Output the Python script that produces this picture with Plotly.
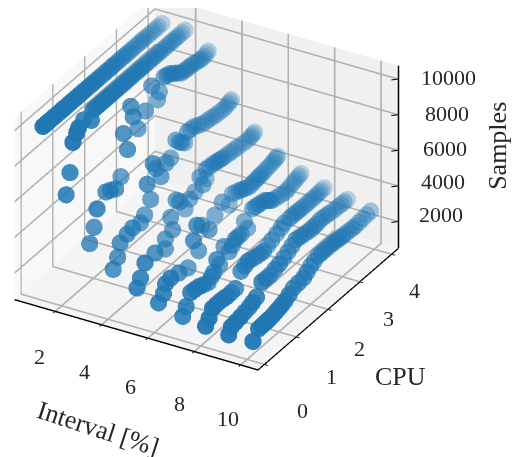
import plotly.graph_objects as go

# One (CPU, Samples) list per sampling interval.
INTERVALS = [1, 2, 3, 4, 5, 6, 7, 8, 9, 10]

cpu_1 = [0.14, 0.21, 0.28, 0.36, 0.44, 0.51, 0.59, 0.67, 0.75, 0.82, 0.90, 0.98, 1.06, 1.13, 1.21, 1.29, 1.37, 1.44, 1.52,
         1.60, 1.68, 1.75, 1.83, 1.91, 1.99, 2.06, 2.14, 2.22, 2.30, 2.37, 2.45, 2.53, 2.61, 2.68, 2.76, 2.84, 2.92, 2.99,
         3.07, 3.15, 3.23, 3.30, 3.38, 3.46, 3.54, 3.61, 3.69, 3.77, 3.88]
samples_1 = [10000, 10000, 10000, 10000, 10000, 10000, 10000, 10000, 10000, 10000, 10000, 10000, 10000, 10000, 10000, 10000, 10000,
             10000, 10000, 10000, 10000, 10000, 10000, 10000, 10000, 10000, 10000, 10000, 10000, 10000, 10000, 10000, 10000,
             10000, 10000, 10000, 10000, 10000, 10000, 10000, 10000, 10000, 10000, 10000, 10000, 10000, 10000, 10000, 10000]

cpu_2 = [0.14, 0.26, 0.35, 0.47, 0.53, 0.69, 0.93, 0.99, 1.07, 1.15, 1.23, 1.31, 1.39, 1.47, 1.55, 1.63, 1.71, 1.79, 1.87,
         1.95, 2.03, 2.11, 2.19, 2.27, 2.35, 2.43, 2.51, 2.59, 2.67, 2.75, 2.83, 2.91, 2.99, 3.07, 3.15, 3.23, 3.31, 3.39,
         3.47, 3.55, 3.63, 3.71, 3.79, 3.88]
samples_2 = [6540, 7600, 9160, 9500, 9700, 9900, 9500, 10000, 10000, 10000, 10000, 10000, 10000, 10000, 10000, 10000, 10000,
             10000, 10000, 10000, 10000, 10000, 10000, 10000, 10000, 10000, 10000, 10000, 10000, 10000, 10000, 10000, 10000,
             10000, 10000, 10000, 10000, 10000, 10000, 10000, 10000, 10000, 10000, 10000]

cpu_3 = [0.15, 0.29, 0.38, 0.66, 0.80, 0.97, 1.13, 1.34, 1.21, 1.67, 1.52, 1.44, 1.91, 2.28, 2.34, 2.10,
         2.49, 2.58, 2.67, 2.76, 2.85, 2.94, 3.03, 3.11, 3.19, 3.27, 3.34, 3.42, 3.49, 3.57, 3.64, 3.70, 3.76, 3.82, 3.88]
samples_3 = [4160, 4860, 5750, 6270, 6150, 5970, 6400, 7600, 8700, 8260, 9160, 9870, 8890, 8940, 9300, 10000,
             9900, 9850, 9800, 9680, 9550, 9420, 9280, 9265, 9250, 9240, 9230, 9200, 9170, 9135, 9100, 9100, 9100, 9150, 9200]

cpu_4 = [0.16, 0.30, 0.38, 0.60, 0.77, 1.02, 1.15, 1.34, 1.23, 1.66, 1.51, 1.42, 1.82, 1.97,
         2.13, 2.24, 2.32, 2.41, 2.50, 2.60, 2.71, 2.84, 2.96, 3.06, 3.16, 3.26, 3.36, 3.44, 3.52, 3.60, 3.67, 3.73, 3.78, 3.83, 3.88]
samples_4 = [3070, 3530, 4210, 4370, 4460, 4350, 4600, 5180, 6200, 5960, 6640, 7060, 6470, 6530,
             7280, 7000, 6850, 6700, 7180, 7170, 7150, 7020, 6900, 6860, 6830, 6800, 6760, 6740, 6730, 6710, 6700, 6740, 6780, 6810, 6850]

cpu_5 = [0.18, 0.29, 0.43, 0.75, 1.07, 1.07, 1.30, 1.24, 1.69, 1.41, 1.53, 1.84, 2.00, 2.25, 2.35, 2.16, 2.35,
         2.46, 2.57, 2.65, 2.73, 2.81, 2.89, 2.99, 3.09, 3.19, 3.29, 3.38, 3.48, 3.57, 3.67, 3.73, 3.78, 3.83, 3.88]
samples_5 = [2370, 2760, 3390, 3460, 3190, 3750, 3910, 4700, 4470, 5400, 5120, 4800, 4960, 4970, 5160, 5550, 5690,
             5660, 5640, 5600, 5570, 5530, 5500, 5470, 5450, 5420, 5400, 5370, 5350, 5320, 5300, 5320, 5340, 5370, 5400]

cpu_6 = [0.13, 0.28, 0.35, 0.51, 0.77, 1.06, 1.39, 1.23, 1.72, 1.49, 1.33, 1.90, 2.35, 2.13, 2.45,
         2.56, 2.67, 2.75, 2.83, 2.91, 2.99, 3.06, 3.12, 3.18, 3.24, 3.30, 3.35, 3.41, 3.46, 3.52, 3.58, 3.64, 3.70, 3.75, 3.80, 3.84, 3.88]
samples_6 = [1990, 2270, 2720, 2800, 2680, 2520, 2970, 3780, 3640, 4240, 4490, 4180, 4050, 4560, 4530,
             4450, 4370, 4300, 4230, 4160, 4100, 4120, 4140, 4160, 4180, 4200, 4210, 4220, 4240, 4260, 4280, 4300, 4330, 4360, 4390, 4410, 4430]

cpu_7 = [0.16, 0.27, 0.41, 0.54, 0.67, 0.81, 0.96, 1.06, 1.14, 1.32, 1.23, 1.62, 1.46, 1.72, 1.81, 1.90, 2.00, 2.20, 2.10, 2.36,
         2.45, 2.55, 2.65, 2.74, 2.80, 2.85, 2.91, 2.96, 3.07, 3.17, 3.27, 3.38, 3.44, 3.51, 3.58, 3.64, 3.70, 3.76, 3.82, 3.88]
samples_7 = [1560, 1940, 2510, 2480, 2440, 2330, 2220, 2400, 2530, 2670, 3090, 2940, 3480, 3130, 3330, 3340, 3340, 3350, 3890, 4210,
             4180, 4150, 4110, 4080, 3990, 3900, 3820, 3740, 3690, 3640, 3600, 3550, 3580, 3620, 3660, 3700, 3730, 3770, 3800, 3830]

cpu_8 = [0.15, 0.26, 0.37, 0.48, 0.60, 0.72, 0.83, 0.96, 1.09, 1.26, 1.38, 1.49, 1.62, 1.75, 1.86, 1.97, 2.10, 2.23,
         2.38, 2.52, 2.62, 2.78, 2.86, 2.94, 3.02, 3.10, 3.18, 3.26, 3.34, 3.42, 3.50, 3.58, 3.66, 3.73, 3.80, 3.88]
samples_8 = [1400, 1680, 2070, 2090, 2100, 2070, 2030, 2040, 2060, 2770, 2870, 2970, 2910, 2850, 2820, 2790, 2900, 3010,
             3130, 3250, 3370, 3380, 3380, 3380, 3370, 3360, 3355, 3350, 3350, 3350, 3350, 3350, 3360, 3370, 3385, 3400]

cpu_9 = [0.15, 0.23, 0.37, 0.52, 0.65, 0.79, 0.90, 1.02, 1.19, 1.32, 1.45, 1.60, 1.74, 1.88, 2.01, 2.14, 2.26,
         2.38, 2.49, 2.60, 2.72, 2.81, 2.90, 2.99, 3.07, 3.18, 3.28, 3.38, 3.49, 3.59, 3.69, 3.78, 3.88]
samples_9 = [1290, 1620, 1670, 1720, 1790, 1850, 1950, 2060, 2650, 2640, 2640, 2720, 2810, 2940, 3070, 3220, 3370,
             3330, 3290, 3255, 3220, 3230, 3240, 3270, 3300, 3270, 3240, 3210, 3180, 3165, 3150, 3140, 3130]

cpu_10 = [0.18, 0.36, 0.47, 0.58, 0.68, 0.79, 0.89, 0.99, 1.09, 1.19, 1.32, 1.45, 1.61, 1.77, 1.88, 2.00, 2.11,
          2.23, 2.34, 2.45, 2.56, 2.66, 2.74, 2.83, 2.91, 3.00, 3.10, 3.20, 3.30, 3.40, 3.52, 3.64, 3.76, 3.88]
samples_10 = [1250, 1680, 1690, 1700, 1715, 1730, 1785, 1840, 1900, 1960, 2120, 2290, 2320, 2350, 2510, 2680, 2780,
              2890, 2890, 2890, 2890, 2890, 2870, 2850, 2830, 2810, 2795, 2780, 2765, 2750, 2775, 2800, 2825, 2850]

CPU = [cpu_1, cpu_2, cpu_3, cpu_4, cpu_5, cpu_6, cpu_7, cpu_8, cpu_9, cpu_10]
SAMPLES = [samples_1, samples_2, samples_3, samples_4, samples_5, samples_6, samples_7, samples_8, samples_9, samples_10]

interval_ticks = [2, 4, 6, 8, 10]
cpu_ticks = [0, 1, 2, 3, 4]
samples_ticks = [2000, 4000, 6000, 8000, 10000]
X_RANGE = [0.25, 10.75]
Y_RANGE = [-0.2, 4.22]
Z_RANGE = [500, 10750]

xs, ys, zs = [], [], []
for interval, cpu, samples in zip(INTERVALS, CPU, SAMPLES):
    xs += [interval] * len(cpu)
    ys += list(cpu)
    zs += list(samples)

# depth shading as in a 3D scatter: farther points are paler; drawn back to front
VIEW = (0.433, -0.75, 0.5)
def depth(p):
    return (VIEW[0] * (p[0] - X_RANGE[0]) / (X_RANGE[1] - X_RANGE[0])
            + VIEW[1] * (p[1] - Y_RANGE[0]) / (Y_RANGE[1] - Y_RANGE[0])
            + VIEW[2] * 0.75 * (p[2] - Z_RANGE[0]) / (Z_RANGE[1] - Z_RANGE[0]))
pts = sorted(zip(xs, ys, zs), key=depth)
ds = [depth(p) for p in pts]
lo, hi = min(ds), max(ds)
N_BINS = 8
bins = [[] for _ in range(N_BINS)]
for p, d in zip(pts, ds):
    bins[min(N_BINS - 1, int(N_BINS * (d - lo) / (hi - lo)))].append(p)

FONT = "Liberation Serif"
TICK = dict(family=FONT, size=22, color="#262626")
TITLE = dict(family=FONT, size=26, color="#262626")

def note(x, y, z, text, dx, dy, font=TICK, angle=0):
    return dict(x=x, y=y, z=z, text=text, showarrow=False, xshift=dx, yshift=-dy,
                font=font, textangle=angle, xanchor="center", yanchor="middle")

notes = []
for t, (dx, dy) in zip(interval_ticks, [(-16, 45), (-17, 47), (-17, 48), (-15, 52), (-13, 54)]):
    notes.append(note(t, Y_RANGE[0], Z_RANGE[0], str(t), dx, dy))
for t, (dx, dy) in zip(cpu_ticks, [(38, 46), (35, 40), (32, 39), (29, 37), (23, 36)]):
    notes.append(note(X_RANGE[1], t, Z_RANGE[0], str(t), dx, dy))
for t, (dx, dy) in zip(samples_ticks, [(42, -7), (44, -4), (46, -2), (48, -1), (50, -2)]):
    notes.append(note(X_RANGE[1], Y_RANGE[1], t, str(t), dx, dy))
notes.append(note(5, Y_RANGE[0], Z_RANGE[0], "Interval [%]", -27, 97, TITLE, 18))
notes.append(note(X_RANGE[1], 2, Z_RANGE[0], "CPU", 73, 67, TITLE))
notes.append(note(X_RANGE[1], Y_RANGE[1], 6000, "Samples", 99, -4, TITLE, -90))

def axis(rng, ticks, bg, line=True):
    return dict(range=rng, tickvals=ticks, ticktext=[str(t) for t in ticks], showticklabels=False,
                title=dict(text=""), showbackground=True, backgroundcolor=bg,
                gridcolor="#b0b0b0", gridwidth=4, showline=line, linecolor="black", linewidth=3,
                ticks="outside" if line else "", ticklen=4, tickcolor="black", tickwidth=2,
                zeroline=False, showspikes=False)

fig = go.Figure()
for i, b in enumerate(bins):
    fig.add_trace(go.Scatter3d(x=[p[0] for p in b], y=[p[1] for p in b], z=[p[2] for p in b], mode="markers",
                               marker=dict(size=10, color="rgb(31,119,180)", opacity=0.28 + 0.67 * i / (N_BINS - 1), line=dict(width=0)),
                               hoverinfo="skip"))
# the vertical axis stands on the back right edge
ZX, ZY = X_RANGE[1], Y_RANGE[1]
fig.add_trace(go.Scatter3d(x=[ZX, ZX], y=[ZY, ZY], z=Z_RANGE, mode="lines", line=dict(color="black", width=3), hoverinfo="skip"))
for t in samples_ticks:
    fig.add_trace(go.Scatter3d(x=[ZX - 0.2, ZX + 0.2], y=[ZY - 0.08, ZY + 0.08], z=[t, t], mode="lines",
                               line=dict(color="black", width=2), hoverinfo="skip"))
R = 2.5
SCALE = 1.23
off = (0.301, 0.038, -0.204)
fig.update_layout(
    width=525, height=457, margin=dict(l=0, r=0, t=0, b=0), paper_bgcolor="white", showlegend=False,
    scene=dict(
        domain=dict(x=[0, 1], y=[0, 1]),
        aspectmode="manual", aspectratio=dict(x=SCALE, y=SCALE, z=0.75 * SCALE),
        xaxis=axis(X_RANGE, interval_ticks, "#f8f8f8"),
        yaxis=axis(Y_RANGE, cpu_ticks, "#f0f0f0"),
        zaxis=axis(Z_RANGE, samples_ticks, "#f4f4f4", line=False),
        camera=dict(projection=dict(type="orthographic"), up=dict(x=0, y=0, z=1),
                    center=dict(x=off[0], y=off[1], z=off[2]),
                    eye=dict(x=VIEW[0] * R + off[0], y=VIEW[1] * R + off[1], z=VIEW[2] * R + off[2])),
        annotations=notes,
    ),
)
fig.write_html("out.html")
